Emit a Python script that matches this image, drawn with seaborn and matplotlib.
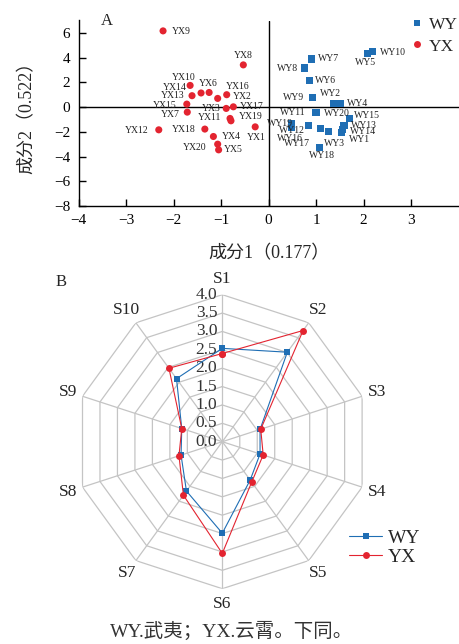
import numpy as np
import pandas as pd
import matplotlib
matplotlib.use("Agg")
import matplotlib.pyplot as plt
import seaborn as sns
from matplotlib.lines import Line2D
from matplotlib.transforms import offset_copy

# ---- panel A: PCA scores ----
wy_names = [f"WY{i}" for i in range(1, 21)]
wy_pc1 = [1.54, 1.37, 1.26, 1.51, 2.08, 0.86, 0.91, 0.76, 0.93, 2.18,
          0.99, 0.48, 1.59, 1.55, 1.70, 0.85, 1.09, 1.07, 0.48, 1.01]
wy_pc2 = [-2.04, 0.32, -1.98, 0.32, 4.32, 2.16, 3.89, 3.16, 0.81, 4.46,
          -0.41, -1.68, -1.49, -1.84, -0.95, -1.49, -1.76, -3.24, -1.30, -0.45]

yx_names = [f"YX{i}" for i in range(1, 21)]
yx_pc1 = [-0.28, -0.88, -0.89, -1.16, -1.05, -1.25, -1.71, -0.53, -2.22, -1.42,
          -0.81, -2.31, -1.61, -1.65, -1.72, -1.07, -0.74, -1.34, -0.79, -1.07]
yx_pc2 = [-1.60, 1.00, -0.11, -2.38, -3.46, 1.18, -0.41, 3.41, 6.16, 1.14,
          -0.92, -1.84, 0.92, 1.75, 0.24, 0.70, 0.02, -1.78, -1.11, -3.00]

x_ticks = [-4, -3, -2, -1, 0, 1, 2, 3]
y_ticks = [-8, -6, -4, -2, 0, 2, 4, 6]

# where each point label sits, in pixels from its point (dx, dy up)
label_offsets = {
    "WY1": (18, -7.5), "WY2": (-3, 10), "WY3": (6, -11.6), "WY4": (17, 0),
    "WY5": (-2, -9.3), "WY6": (16.5, 0), "WY7": (17, 0.6), "WY8": (-17, -0.4),
    "WY9": (-19, 0), "WY10": (21, -1), "WY11": (-22.6, -0.4), "WY12": (1, -2.7),
    "WY13": (20, 0), "WY14": (21, -1.7), "WY15": (17.7, 3.3), "WY16": (-18.7, -13.3),
    "WY17": (-23.6, -15), "WY18": (2.7, -8.4), "WY19": (-11.3, 0), "WY20": (20.5, -1),
    "YX1": (1, -11), "YX2": (16, -2), "YX3": (-15, 0), "YX4": (17.5, 0),
    "YX5": (15, 0), "YX6": (-1, 9.4), "YX7": (-17, -2.7), "YX8": (0, 9),
    "YX9": (18, -1), "YX10": (-17.4, 15.6), "YX11": (-20.5, 1.4), "YX12": (-22.4, -0.7),
    "YX13": (-19.2, -0.3), "YX14": (-15.7, -2), "YX15": (-22.5, -1.4), "YX16": (19.8, 12),
    "YX17": (18.2, 0.3), "YX18": (-21, -0.7), "YX19": (19.3, 4.3), "YX20": (-23, -3),
}

# ---- panel B: radar ----
traits = [f"S{i}" for i in range(1, 11)]
wy_scores = [2.54, 3.01, 1.08, 1.08, 1.29, 2.49, 1.66, 1.18, 1.16, 2.12]
yx_scores = [2.40, 3.74, 1.10, 1.17, 1.36, 3.04, 1.80, 1.24, 1.16, 2.47]
r_ticks = [0.0, 0.5, 1.0, 1.5, 2.0, 2.5, 3.0, 3.5, 4.0]

colors = {"WY": "#1f6eb4", "YX": "#e32430"}
markers = {"WY": "s", "YX": "o"}

sns.set_theme(style="ticks")
plt.rcParams["font.family"] = ["Liberation Serif", "Noto Sans CJK SC"]
plt.rcParams["axes.unicode_minus"] = True

W, H = 459, 644
fig = plt.figure(figsize=(W / 100, H / 100), dpi=100)

# ---------- A ----------
ax = fig.add_axes([78.5 / W, 1 - 206 / H, (458.5 - 78.5) / W, (206 - 20.5) / H])
pca = pd.DataFrame({
    "name": wy_names + yx_names,
    "pc1": wy_pc1 + yx_pc1,
    "pc2": wy_pc2 + yx_pc2,
    "site": ["WY"] * len(wy_names) + ["YX"] * len(yx_names),
})
ax.axhline(0, color="black", lw=1.0, zorder=1)
ax.axvline(0, color="black", lw=1.0, zorder=1)
sns.scatterplot(data=pca, x="pc1", y="pc2", hue="site", style="site",
                palette=colors, markers=markers, s=26, linewidth=0,
                legend=False, ax=ax, zorder=3)
for _, row in pca.iterrows():
    dx, dy = label_offsets[row["name"]]
    ax.annotate(row["name"], (row["pc1"], row["pc2"]), xytext=(dx, dy),
                textcoords="offset pixels", ha="center", va="center",
                fontsize=7, color="#222222")

ax.set_xlim(-4, 4)
ax.set_ylim(-8, 7)
ax.set_xticks(x_ticks)
ax.set_yticks(y_ticks)
ax.tick_params(direction="in", length=5, width=1, labelsize=11, pad=6, colors="black")
sns.despine(ax=ax)
for s in ["left", "bottom"]:
    ax.spines[s].set_linewidth(1.0)
    ax.spines[s].set_color("black")
ax.set_xlabel("成分1（0.177）", fontsize=13, labelpad=13)
ax.set_ylabel("成分2（0.522）", fontsize=13, labelpad=13)
ax.text(106.7 / W, 1 - 21 / H, "A", transform=fig.transFigure,
        ha="center", va="center", fontsize=12)

leg_a = [Line2D([], [], ls="none", marker=markers[k], color=colors[k],
                markersize=5, markeredgewidth=0) for k in ["WY", "YX"]]
ax.legend(leg_a, ["WY", "YX"], loc="upper left", frameon=False,
          bbox_to_anchor=(412 / W, 1 - 17 / H), bbox_transform=fig.transFigure,
          fontsize=12.5, handlelength=0.6, handletextpad=0.35, labelspacing=0.3,
          borderpad=0, borderaxespad=0)

# ---------- B ----------
R = 147
cx, cy = 222.3, 441.7
axp = fig.add_axes([(cx - R) / W, (H - cy - R) / H, 2 * R / W, 2 * R / H], projection="polar")
axp.set_theta_zero_location("N")
axp.set_theta_direction(-1)
theta = np.arange(len(traits)) * 2 * np.pi / len(traits)
theta_c = np.append(theta, 2 * np.pi)

for r in r_ticks[1:]:
    axp.plot(theta_c, [r] * len(theta_c), color="#c4c4c4", lw=0.9, zorder=0)
for t in theta:
    axp.plot([t, t], [0, r_ticks[-1]], color="#c4c4c4", lw=0.9, zorder=0)

radar = pd.DataFrame({
    "theta": np.concatenate([theta_c, theta_c]),
    "score": wy_scores + wy_scores[:1] + yx_scores + yx_scores[:1],
    "site": ["WY"] * len(theta_c) + ["YX"] * len(theta_c),
})
sns.lineplot(data=radar, x="theta", y="score", hue="site", style="site",
             palette=colors, markers=markers, dashes=False, sort=False,
             estimator=None, linewidth=0.8, markersize=5, markeredgewidth=0,
             legend=False, ax=axp, zorder=3)

axp.set_ylim(0, r_ticks[-1])
axp.set_xticks([])
axp.set_yticks([])
axp.grid(False)
axp.spines["polar"].set_visible(False)
axp.patch.set_visible(False)
axp.set_xlabel("")
axp.set_ylabel("")

for t, name in zip(theta, traits):
    axp.text(t, 4.42, name, ha="center", va="center", fontsize=12.5)
lab_tr = offset_copy(axp.transData, fig=fig, x=-5, y=0, units="dots")
for r in r_ticks:
    axp.text(0, r, f"{r:.1f}", transform=lab_tr, ha="right", va="center",
             fontsize=12.5, color="#333333", zorder=2)

fig.text(61 / W, 1 - 282 / H, "B", ha="center", va="center", fontsize=12)

leg_b = [Line2D([], [], marker=markers[k], color=colors[k], lw=0.8,
                markersize=5, markeredgewidth=0) for k in ["WY", "YX"]]
fig.legend(leg_b, ["WY", "YX"], loc="upper left", frameon=False,
           bbox_to_anchor=(349 / W, 1 - 529 / H), fontsize=14,
           handlelength=1.7, handletextpad=0.3, labelspacing=0.1,
           borderpad=0, borderaxespad=0)

fig.text(231.5 / W, 1 - 631 / H, "WY.武夷；YX.云霄。下同。",
         ha="center", va="center", fontsize=14, color="#333333")

fig.savefig("out.png", dpi=100)
